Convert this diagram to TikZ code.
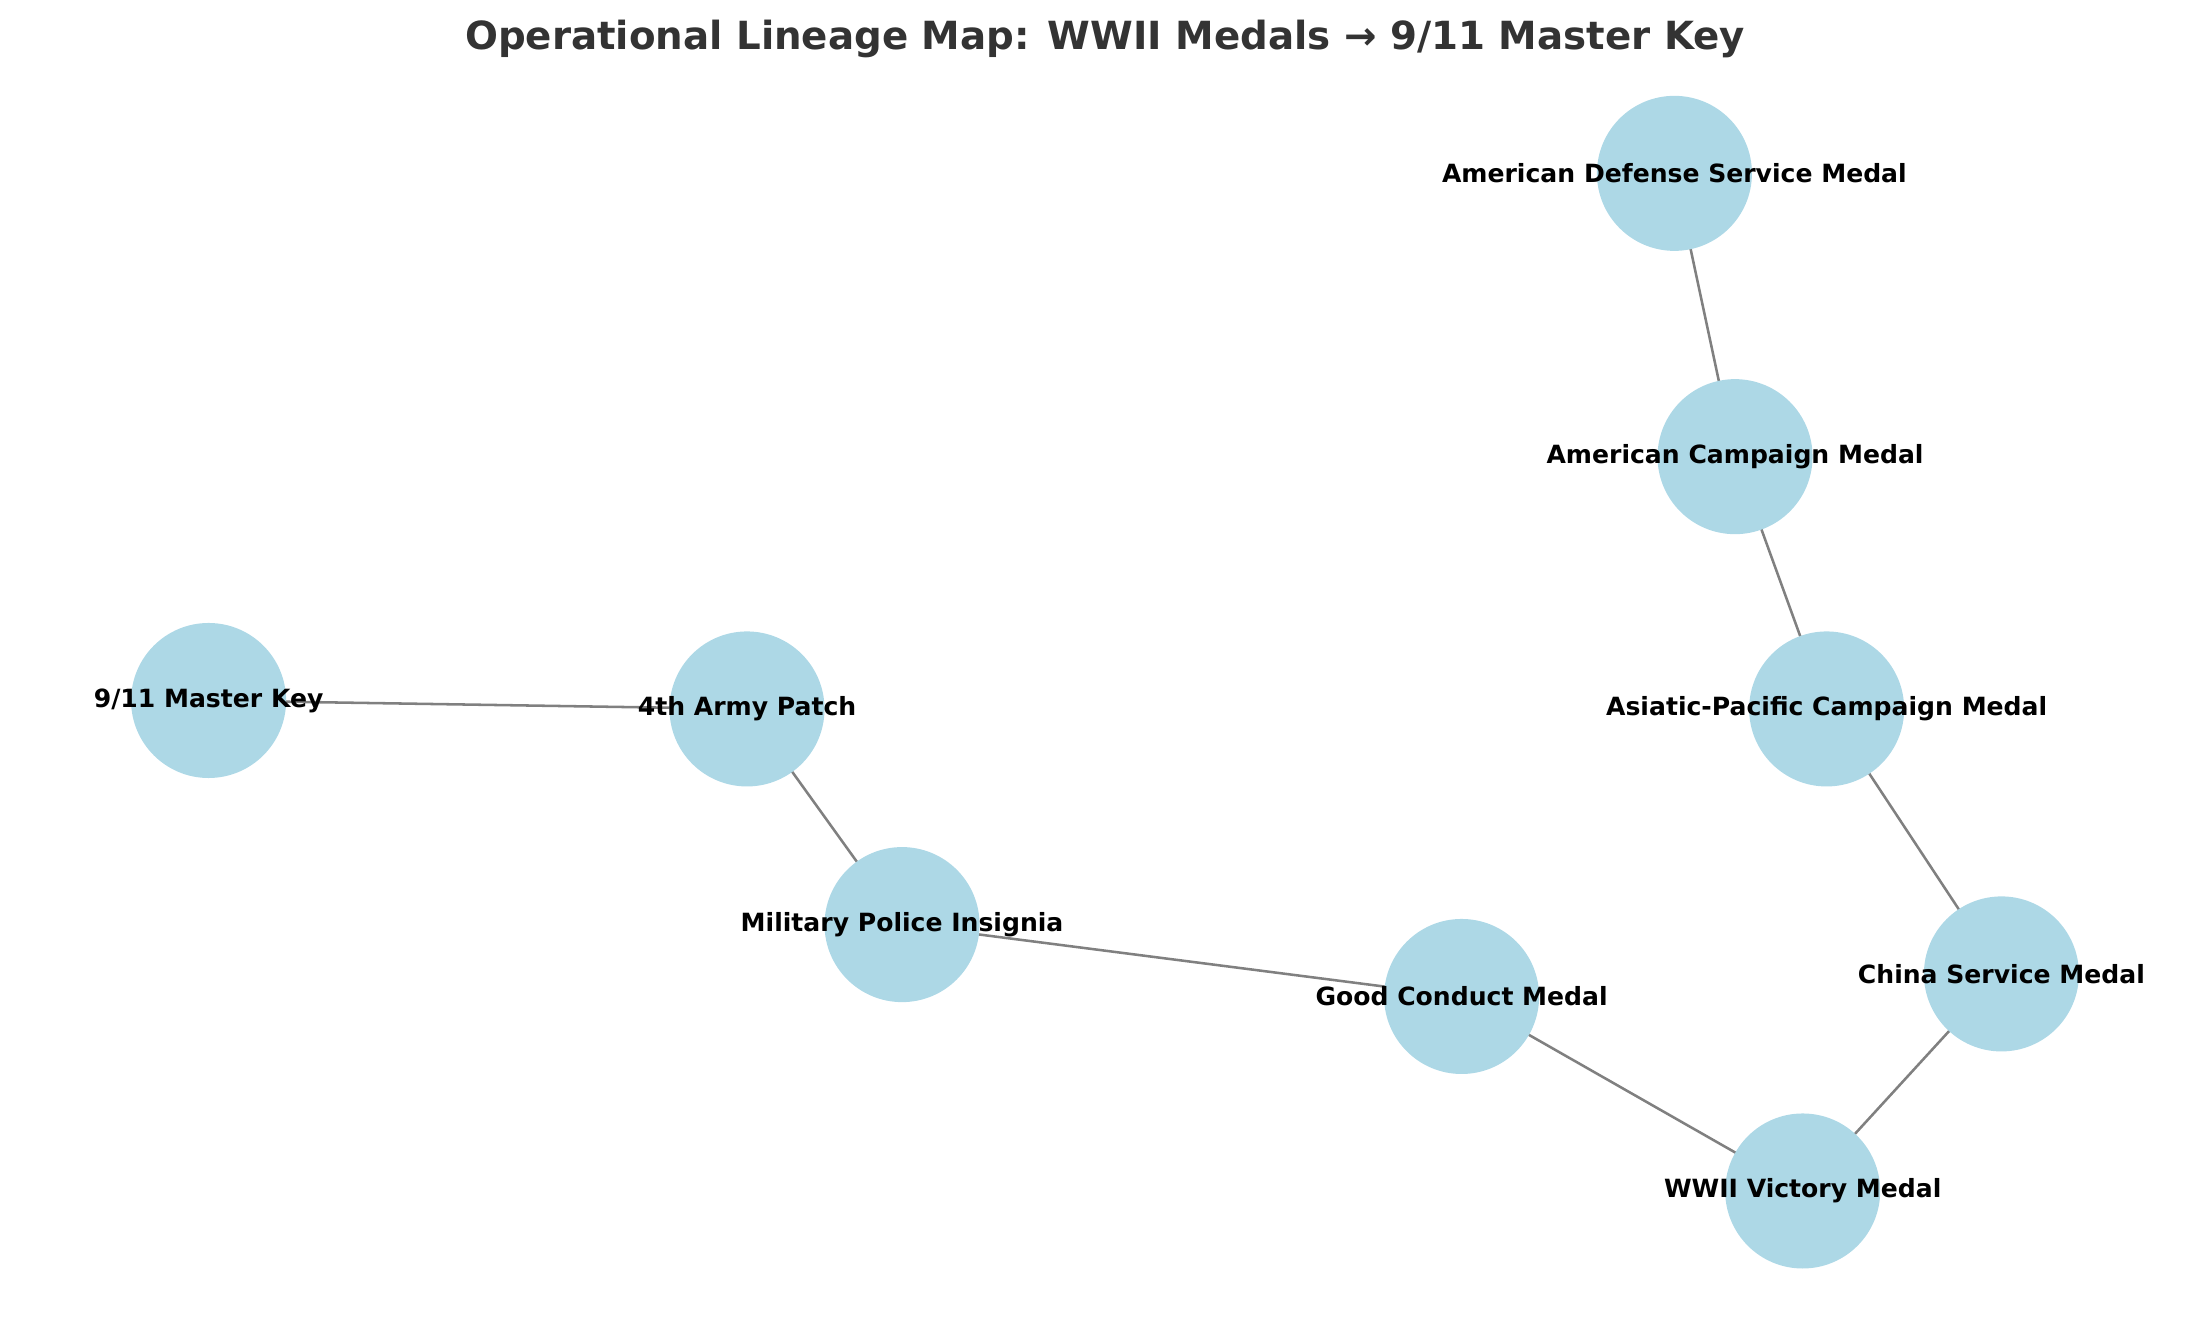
\documentclass[tikz,border=0pt]{standalone}
\usepackage{fontspec}
\setmainfont{DejaVu Sans}
\usetikzlibrary{backgrounds}
\definecolor{medalblue}{RGB}{173,216,230}
\definecolor{linkgray}{RGB}{128,128,128}
\definecolor{titlegray}{RGB}{51,51,51}
\begin{document}
\begin{tikzpicture}[x=0.5pt,y=-0.5pt,
  medal/.style={circle,fill=medalblue,minimum size=55pt,inner sep=0pt},
  tag/.style={font=\fontsize{8.9}{10}\selectfont\bfseries,text=black,inner sep=0pt},
  link/.style={linkgray,line width=0.9pt}]
\useasboundingbox (0,0) rectangle (1568,935);
\node[font=\fontsize{13.75}{15}\selectfont\bfseries,text=titlegray] (title) at (784,28) {Operational Lineage Map: WWII Medals → 9/11 Master Key};
\node[medal,label={[tag]center:American Defense Service Medal}] (ads) at (1188,123) {};
\node[medal,label={[tag]center:American Campaign Medal}] (acm) at (1231,324) {};
\node[medal,label={[tag]center:Asiatic-Pacific Campaign Medal}] (apc) at (1296,503) {};
\node[medal,label={[tag]center:China Service Medal}] (csm) at (1420,691) {};
\node[medal,label={[tag]center:WWII Victory Medal}] (wvm) at (1279,845) {};
\node[medal,label={[tag]center:Good Conduct Medal}] (gcm) at (1037,707) {};
\node[medal,label={[tag]center:Military Police Insignia}] (mpi) at (640,656) {};
\node[medal,label={[tag]center:4th Army Patch}] (fap) at (530,503) {};
\node[medal,label={[tag]center:9/11 Master Key}] (key) at (148,497) {};
\begin{scope}[on background layer]
\foreach \a/\b in {ads/acm,acm/apc,apc/csm,csm/wvm,wvm/gcm,gcm/mpi,mpi/fap,fap/key}{\draw[link] (\a.center)--(\b.center);}
\end{scope}
\end{tikzpicture}
\end{document}
